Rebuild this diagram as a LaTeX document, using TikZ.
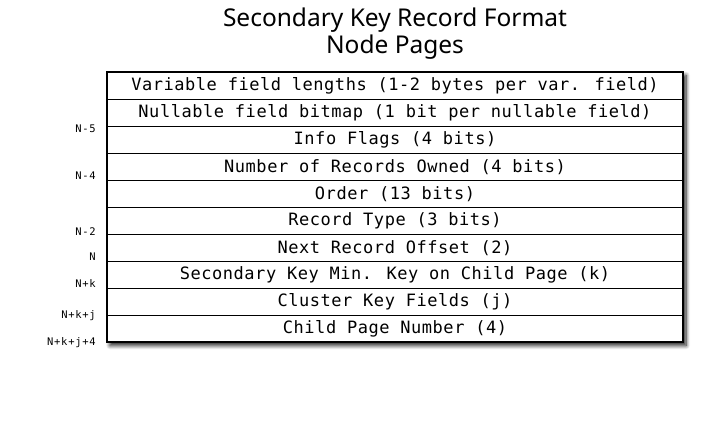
\documentclass[tikz,border=0pt]{standalone}
\usepackage{fontspec}
\setmainfont{Noto Sans}
\newfontfamily\rowfont[LetterSpace=3.2]{DejaVu Sans Mono}
\newfontfamily\offfont[LetterSpace=7]{DejaVu Sans Mono}
\usetikzlibrary{shadows.blur}
\tikzset{
  field/.style={draw=black, line width=0.9pt, minimum width=576pt, minimum height=27pt,
    inner sep=0pt, font=\rowfont\fontsize{17pt}{19pt}\selectfont, anchor=center},
  frame/.style={draw=black, line width=1.3pt, fill=white, minimum width=576pt,
    minimum height=270pt, inner sep=0pt,
    blur shadow={shadow xshift=3pt, shadow yshift=-3.5pt, shadow blur steps=8,
      shadow blur radius=4pt, shadow opacity=90}},
  offset/.style={font=\offfont\fontsize{10.5pt}{12pt}\selectfont, anchor=east, inner sep=0pt},
  heading/.style={font=\fontsize{24.5pt}{27pt}\selectfont, align=center, inner sep=0pt}
}
\begin{document}
\begin{tikzpicture}[x=1pt,y=-1pt]
  \useasboundingbox (0,0) rectangle (727,423);
  % title
  \node[heading] (title) at (395,34) {Secondary Key Record Format\\Node Pages};
  % record frame with shadow
  \node[frame] (tbl) at (395,207) {};
  % record fields
  \node[field] (r1)  at (395,86)  {Variable field lengths (1-2 bytes per var. field)};
  \node[field] (r2)  at (395,113) {Nullable field bitmap (1 bit per nullable field)};
  \node[field] (r3)  at (395,140) {Info Flags (4 bits)};
  \node[field] (r4)  at (395,167) {Number of Records Owned (4 bits)};
  \node[field] (r5)  at (395,194) {Order (13 bits)};
  \node[field] (r6)  at (395,221) {Record Type (3 bits)};
  \node[field] (r7)  at (395,248) {Next Record Offset (2)};
  \node[field] (r8)  at (395,275) {Secondary Key Min. Key on Child Page (k)};
  \node[field] (r9)  at (395,302) {Cluster Key Fields (j)};
  \node[field] (r10) at (395,329) {Child Page Number (4)};
  \draw[line width=1.3pt] (tbl.north west) rectangle (tbl.south east);
  % byte offsets
  \node[offset] (o1) at (96,128.5) {N-5};
  \node[offset] (o2) at (96,176)   {N-4};
  \node[offset] (o3) at (96,231.5) {N-2};
  \node[offset] (o4) at (96,257)   {N};
  \node[offset] (o5) at (96,284)   {N+k};
  \node[offset] (o6) at (96,316)   {N+k+j};
  \node[offset] (o7) at (96,343)   {N+k+j+4};
\end{tikzpicture}
\end{document}
